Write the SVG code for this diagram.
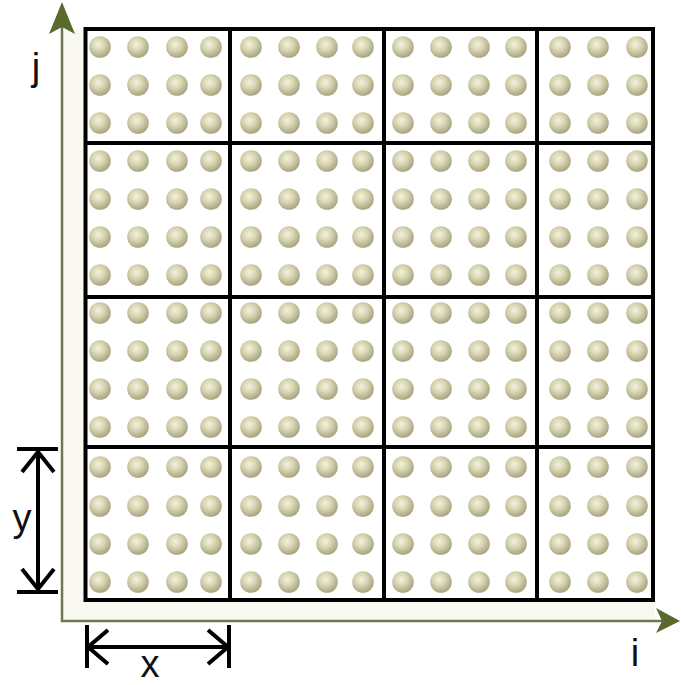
<svg xmlns="http://www.w3.org/2000/svg" xmlns:xlink="http://www.w3.org/1999/xlink" width="681" height="685" viewBox="0 0 681 685">
<defs>
<radialGradient id="dg" cx="42%" cy="38%" r="62%">
<stop offset="0" stop-color="#f3f2dc"/>
<stop offset="0.45" stop-color="#d9d6b3"/>
<stop offset="1" stop-color="#a8a482"/>
</radialGradient>
<circle id="d" r="10.8" fill="url(#dg)"/>
<g id="row">
<use xlink:href="#d" x="100"/><use xlink:href="#d" x="138"/><use xlink:href="#d" x="177"/><use xlink:href="#d" x="211"/>
<use xlink:href="#d" x="251"/><use xlink:href="#d" x="289"/><use xlink:href="#d" x="327"/><use xlink:href="#d" x="363"/>
<use xlink:href="#d" x="403"/><use xlink:href="#d" x="441"/><use xlink:href="#d" x="479"/><use xlink:href="#d" x="516"/>
<use xlink:href="#d" x="560"/><use xlink:href="#d" x="598"/><use xlink:href="#d" x="637"/>
</g>
</defs>
<style>
.grid{fill:none;stroke:#000;stroke-width:4}
.dim{fill:none;stroke:#000;stroke-width:4;stroke-linecap:butt}
.axis{fill:none;stroke:#6f7650;stroke-width:2.5}
.head{fill:#5a6a2c}
.lbl{font-family:"Liberation Sans",Arial,sans-serif;font-size:38px;fill:#111}
</style>
<rect width="681" height="685" fill="#fff"/>
<rect id="frame" x="62" y="29" width="593" height="592" fill="#f9f9f2"/>
<rect x="85.5" y="29" width="567.5" height="571" fill="#fff"/>
<g id="dots">
<use xlink:href="#row" y="47"/><use xlink:href="#row" y="85"/><use xlink:href="#row" y="123"/>
<use xlink:href="#row" y="161"/><use xlink:href="#row" y="199"/><use xlink:href="#row" y="237"/><use xlink:href="#row" y="275"/>
<use xlink:href="#row" y="313"/><use xlink:href="#row" y="351"/><use xlink:href="#row" y="389"/><use xlink:href="#row" y="427"/>
<use xlink:href="#row" y="467"/><use xlink:href="#row" y="506"/><use xlink:href="#row" y="544"/><use xlink:href="#row" y="582"/>
</g>
<g id="grid" class="grid">
<rect x="85.5" y="29" width="567.5" height="571"/>
<line x1="230" y1="29" x2="230" y2="600"/>
<line x1="384" y1="29" x2="384" y2="600"/>
<line x1="537" y1="29" x2="537" y2="600"/>
<line x1="85.5" y1="143" x2="653" y2="143"/>
<line x1="85.5" y1="297" x2="653" y2="297"/>
<line x1="85.5" y1="447" x2="653" y2="447"/>
</g>
<g id="axes">
<polyline class="axis" points="62,22 62,621 662,621"/>
<path class="head" d="M62,2 L75,34 L62,27 L49,34 Z"/>
<path class="head" d="M680,621 L656,633 L662,621 L656,608 Z"/>
</g>
<g id="dim-y" class="dim">
<line x1="17" y1="449" x2="58" y2="449"/>
<line x1="17" y1="592" x2="58" y2="592"/>
<line x1="38" y1="451" x2="38" y2="590"/>
<polyline points="22,472 38,452 54,472"/>
<polyline points="22,569 38,589 54,569"/>
</g>
<g id="dim-x" class="dim">
<line x1="87" y1="625" x2="87" y2="668"/>
<line x1="229" y1="625" x2="229" y2="668"/>
<line x1="89" y1="647" x2="227" y2="647"/>
<polyline points="108,630 88,647 108,664"/>
<polyline points="208,630 228,647 208,664"/>
</g>
<g id="labels">
<text class="lbl" x="36" y="80" text-anchor="middle">j</text>
<text class="lbl" x="635" y="666" text-anchor="middle">i</text>
<text class="lbl" x="22" y="531" text-anchor="middle">y</text>
<text class="lbl" x="150" y="677" text-anchor="middle">x</text>
</g>
</svg>
